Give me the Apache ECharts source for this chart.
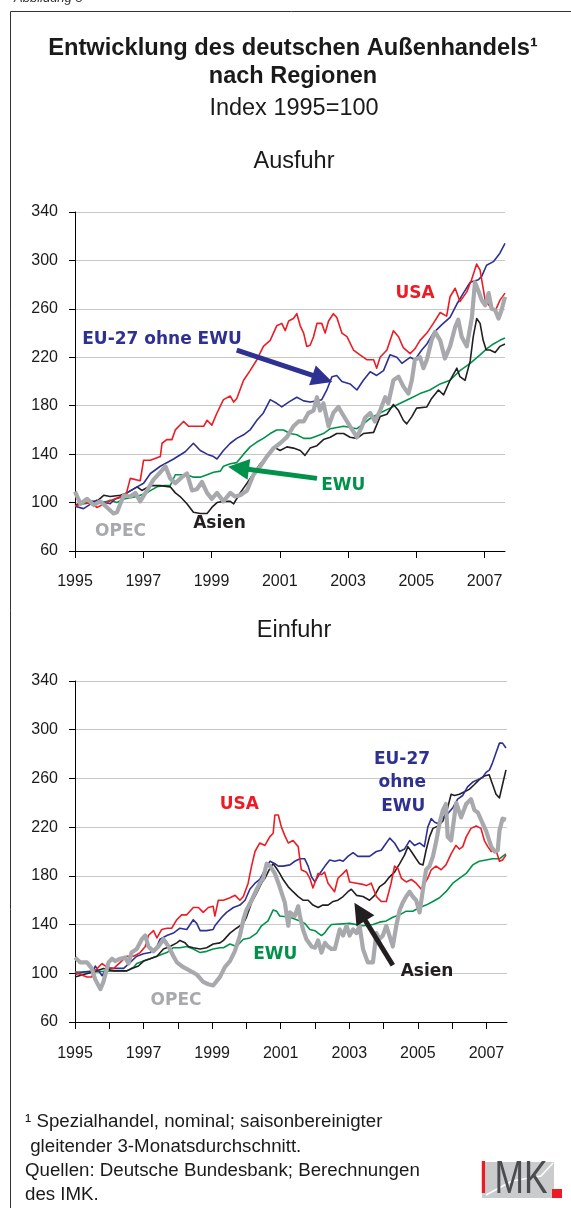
<!DOCTYPE html>
<html>
<head>
<meta charset="utf-8">
<script src="https://cdn.jsdelivr.net/npm/echarts@6/dist/echarts.min.js"></script>
<style>
  html, body { margin: 0; padding: 0; background: #fff; }
  #chart { width: 571px; height: 1208px; }
</style>
</head>
<body>
<div id="chart"></div>
<script>
// Werte als [Jahr, Index 1995=100]

// Ausfuhr
var exUSA = [[1995.00,97],[1995.25,100],[1995.50,99],[1995.64,96],[1996.00,101],[1996.25,104],[1996.50,107],[1996.62,120],[1996.91,118],[1997.01,135],[1997.21,135],[1997.50,138],[1997.55,149],[1997.69,152],[1997.84,152],[1997.94,160],[1998.18,167],[1998.33,163],[1998.77,163],[1998.87,168],[1999.01,164],[1999.16,174],[1999.35,185],[1999.55,188],[1999.65,183],[1999.74,186],[1999.94,201],[2000.13,209],[2000.33,218],[2000.52,229],[2000.72,234],[2000.91,246],[2001.06,248],[2001.16,242],[2001.26,250],[2001.40,252],[2001.50,256],[2001.60,246],[2001.70,240],[2001.79,229],[2001.89,230],[2001.99,237],[2002.09,248],[2002.23,248],[2002.33,240],[2002.43,250],[2002.57,256],[2002.67,253],[2002.82,240],[2002.97,237],[2003.16,226],[2003.35,222],[2003.55,218],[2003.75,218],[2003.84,211],[2003.94,220],[2004.14,226],[2004.33,242],[2004.48,237],[2004.62,228],[2004.82,223],[2004.96,227],[2005.11,234],[2005.31,240],[2005.50,248],[2005.70,257],[2005.89,254],[2005.99,270],[2006.14,277],[2006.28,266],[2006.48,274],[2006.62,284],[2006.77,297],[2006.87,292],[2007.02,267],[2007.16,262],[2007.31,258],[2007.45,267],[2007.60,273]];
var exEU = [[1995.00,97],[1995.25,95],[1995.64,102],[1996.03,99],[1996.18,103],[1996.43,105],[1996.52,108],[1996.82,113],[1997.01,116],[1997.21,124],[1997.50,130],[1997.89,136],[1998.23,142],[1998.47,149],[1998.67,143],[1998.87,140],[1999.06,138],[1999.16,136],[1999.35,143],[1999.55,149],[1999.74,153],[1999.94,156],[2000.13,160],[2000.33,168],[2000.52,174],[2000.72,185],[2000.91,182],[2001.06,179],[2001.26,183],[2001.50,187],[2001.70,184],[2001.89,183],[2002.09,184],[2002.23,185],[2002.38,193],[2002.53,204],[2002.67,205],[2002.82,200],[2003.06,198],[2003.26,193],[2003.45,201],[2003.65,208],[2003.84,205],[2004.04,209],[2004.23,222],[2004.43,220],[2004.58,215],[2004.82,220],[2004.96,218],[2005.16,226],[2005.31,231],[2005.50,240],[2005.75,247],[2005.99,253],[2006.19,264],[2006.38,273],[2006.58,282],[2006.82,284],[2006.92,287],[2007.06,296],[2007.26,299],[2007.45,306],[2007.60,314]];
var exEWU = [[1995.00,98],[1995.55,100],[1995.84,100],[1996.03,102],[1996.23,100],[1996.43,103],[1996.82,105],[1997.01,107],[1997.16,109],[1997.40,113],[1997.60,114],[1997.79,114],[1997.94,123],[1998.28,123],[1998.47,121],[1998.67,121],[1998.87,123],[1999.06,125],[1999.26,126],[1999.35,130],[1999.55,132],[1999.74,133],[1999.94,140],[2000.13,146],[2000.33,150],[2000.52,153],[2000.72,157],[2000.91,160],[2001.11,160],[2001.30,157],[2001.50,156],[2001.70,153],[2001.89,153],[2002.09,155],[2002.28,157],[2002.48,161],[2002.87,163],[2003.26,161],[2003.45,165],[2003.62,169],[2003.94,174],[2004.23,178],[2004.53,182],[2004.82,186],[2005.11,190],[2005.40,193],[2005.70,198],[2005.99,201],[2006.28,209],[2006.58,215],[2006.87,222],[2007.06,227],[2007.26,231],[2007.45,234],[2007.60,236]];
var exAsien = [[1995.00,98],[1995.35,101],[1995.64,101],[1995.84,106],[1996.03,105],[1996.33,106],[1996.52,108],[1996.82,113],[1996.96,110],[1997.21,114],[1997.50,114],[1997.79,113],[1997.94,108],[1998.08,105],[1998.28,99],[1998.47,92],[1998.67,91],[1998.87,91],[1999.01,96],[1999.16,100],[1999.35,101],[1999.55,101],[1999.65,99],[1999.84,108],[2000.04,116],[2000.23,124],[2000.43,132],[2000.62,138],[2000.82,146],[2001.01,143],[2001.21,146],[2001.40,145],[2001.60,143],[2001.74,139],[2001.89,145],[2002.09,147],[2002.28,152],[2002.48,154],[2002.67,157],[2002.87,157],[2003.06,154],[2003.26,153],[2003.45,157],[2003.75,158],[2003.94,171],[2004.14,173],[2004.33,181],[2004.48,176],[2004.62,168],[2004.72,165],[2004.87,171],[2005.01,178],[2005.31,179],[2005.45,186],[2005.65,193],[2005.80,189],[2005.99,201],[2006.19,211],[2006.28,204],[2006.43,201],[2006.58,217],[2006.67,237],[2006.77,252],[2006.87,248],[2006.96,234],[2007.05,226],[2007.16,226],[2007.31,224],[2007.45,229],[2007.60,231]];
var exOPEC = [[1995.00,109],[1995.16,99],[1995.35,103],[1995.55,98],[1995.74,101],[1995.94,96],[1996.13,91],[1996.23,92],[1996.43,106],[1996.62,105],[1996.77,108],[1996.91,101],[1997.11,110],[1997.30,119],[1997.50,125],[1997.65,130],[1997.79,120],[1997.94,116],[1998.13,121],[1998.28,124],[1998.43,110],[1998.57,111],[1998.72,117],[1998.87,108],[1999.01,103],[1999.16,108],[1999.35,101],[1999.55,108],[1999.69,105],[1999.84,106],[2000.04,110],[2000.23,123],[2000.43,130],[2000.62,138],[2000.82,145],[2001.01,149],[2001.21,154],[2001.40,163],[2001.55,167],[2001.70,167],[2001.84,174],[2001.99,176],[2002.09,187],[2002.18,176],[2002.28,182],[2002.43,163],[2002.57,174],[2002.72,179],[2002.82,174],[2002.97,167],[2003.06,163],[2003.26,154],[2003.41,163],[2003.50,170],[2003.65,174],[2003.79,167],[2003.94,176],[2004.09,187],[2004.18,182],[2004.33,201],[2004.48,204],[2004.62,196],[2004.77,190],[2004.87,201],[2004.96,218],[2005.11,220],[2005.21,211],[2005.31,218],[2005.45,234],[2005.55,241],[2005.70,234],[2005.84,219],[2005.99,229],[2006.14,245],[2006.23,251],[2006.33,237],[2006.48,229],[2006.63,253],[2006.72,282],[2006.82,275],[2006.92,267],[2007.02,263],[2007.12,273],[2007.21,260],[2007.31,259],[2007.41,252],[2007.50,259],[2007.60,270]];

// Einfuhr
var imUSA = [[1995.00,101],[1995.16,99],[1995.35,97],[1995.49,97],[1995.54,101],[1995.79,108],[1995.93,105],[1996.13,104],[1996.32,109],[1996.51,114],[1996.71,114],[1996.90,117],[1997.05,122],[1997.14,131],[1997.29,135],[1997.39,129],[1997.53,136],[1997.68,137],[1997.82,137],[1997.97,144],[1998.11,148],[1998.26,148],[1998.45,154],[1998.60,154],[1998.74,150],[1998.89,154],[1999.03,155],[1999.08,147],[1999.18,160],[1999.33,160],[1999.52,162],[1999.67,164],[1999.81,160],[1999.91,163],[2000.05,174],[2000.15,188],[2000.25,200],[2000.39,207],[2000.54,205],[2000.68,212],[2000.78,215],[2000.83,230],[2000.93,230],[2001.02,220],[2001.12,213],[2001.22,207],[2001.36,209],[2001.51,204],[2001.60,185],[2001.75,183],[2001.85,178],[2001.94,170],[2002.09,182],[2002.19,181],[2002.28,183],[2002.38,174],[2002.57,167],[2002.67,178],[2002.82,182],[2002.92,185],[2003.01,175],[2003.21,174],[2003.40,173],[2003.50,172],[2003.64,174],[2003.79,163],[2003.93,159],[2004.08,159],[2004.22,174],[2004.32,188],[2004.42,186],[2004.52,178],[2004.66,175],[2004.81,177],[2004.95,174],[2005.10,169],[2005.20,174],[2005.29,178],[2005.39,185],[2005.53,188],[2005.68,185],[2005.82,189],[2005.97,198],[2006.11,205],[2006.21,202],[2006.31,204],[2006.41,212],[2006.55,219],[2006.70,221],[2006.84,219],[2006.94,209],[2007.04,204],[2007.14,200],[2007.28,201],[2007.38,192],[2007.47,193],[2007.57,197]];
var imEU = [[1995.00,99],[1995.25,101],[1995.54,102],[1995.59,106],[1995.69,102],[1995.79,98],[1995.93,104],[1996.42,104],[1996.61,109],[1996.80,114],[1997.00,116],[1997.19,117],[1997.39,122],[1997.48,128],[1997.68,131],[1997.87,133],[1998.06,137],[1998.26,136],[1998.45,144],[1998.55,141],[1998.65,135],[1998.84,135],[1999.03,136],[1999.08,139],[1999.28,146],[1999.42,150],[1999.62,154],[1999.81,156],[1999.96,160],[2000.10,169],[2000.25,174],[2000.39,177],[2000.59,188],[2000.69,192],[2000.83,190],[2000.93,188],[2001.07,188],[2001.27,189],[2001.41,192],[2001.56,194],[2001.70,194],[2001.80,188],[2001.90,179],[2002.00,175],[2002.14,182],[2002.29,188],[2002.43,193],[2002.58,192],[2002.72,193],[2002.82,192],[2002.96,196],[2003.11,199],[2003.25,196],[2003.59,196],[2003.79,200],[2003.93,201],[2004.08,207],[2004.18,211],[2004.32,207],[2004.47,200],[2004.61,202],[2004.76,209],[2004.90,205],[2005.05,207],[2005.19,204],[2005.29,220],[2005.39,227],[2005.49,224],[2005.58,223],[2005.73,228],[2005.87,231],[2006.02,236],[2006.16,243],[2006.31,246],[2006.45,253],[2006.60,257],[2006.75,259],[2006.89,261],[2006.99,265],[2007.09,267],[2007.18,273],[2007.28,281],[2007.38,289],[2007.47,289],[2007.57,285]];
var imEWU = [[1995.00,101],[1995.54,101],[1996.13,102],[1996.51,102],[1996.71,105],[1996.80,108],[1997.00,110],[1997.19,112],[1997.39,114],[1997.58,116],[1997.68,117],[1997.87,121],[1998.06,121],[1998.26,122],[1998.45,120],[1998.65,117],[1998.84,118],[1999.03,120],[1999.23,121],[1999.33,121],[1999.52,124],[1999.71,122],[1999.91,128],[2000.10,129],[2000.30,133],[2000.44,139],[2000.63,143],[2000.78,152],[2000.88,151],[2000.97,147],[2001.27,146],[2001.56,143],[2001.70,141],[2001.85,136],[2002.00,135],[2002.09,133],[2002.19,131],[2002.28,133],[2002.38,137],[2002.48,140],[2003.01,141],[2003.40,139],[2003.69,140],[2003.88,142],[2004.08,143],[2004.27,146],[2004.47,148],[2004.66,151],[2004.85,151],[2005.05,154],[2005.24,156],[2005.44,159],[2005.63,162],[2005.82,167],[2006.02,174],[2006.21,178],[2006.41,182],[2006.60,189],[2006.79,192],[2006.99,193],[2007.18,194],[2007.38,194],[2007.47,196],[2007.57,198]];
var imAsien = [[1995.00,97],[1995.25,99],[1995.54,101],[1995.83,104],[1996.13,102],[1996.51,102],[1996.66,104],[1996.85,106],[1997.00,110],[1997.19,112],[1997.39,114],[1997.58,120],[1997.77,122],[1997.97,125],[1998.06,127],[1998.21,125],[1998.31,122],[1998.45,121],[1998.65,120],[1998.84,121],[1999.03,124],[1999.23,125],[1999.33,127],[1999.52,133],[1999.71,137],[1999.91,141],[2000.00,146],[2000.15,158],[2000.30,166],[2000.44,174],[2000.54,178],[2000.68,186],[2000.78,190],[2000.88,186],[2000.97,182],[2001.07,177],[2001.22,171],[2001.36,167],[2001.51,163],[2001.65,160],[2001.80,160],[2001.94,156],[2002.09,154],[2002.23,156],[2002.38,156],[2002.53,159],[2002.67,160],[2002.82,163],[2002.96,167],[2003.06,169],[2003.21,164],[2003.40,163],[2003.59,160],[2003.74,164],[2003.88,171],[2004.03,174],[2004.17,179],[2004.32,183],[2004.47,190],[2004.61,197],[2004.71,204],[2004.81,200],[2004.95,194],[2005.05,190],[2005.15,189],[2005.24,201],[2005.34,212],[2005.44,219],[2005.59,221],[2005.73,225],[2005.87,236],[2005.97,247],[2006.07,246],[2006.21,247],[2006.36,249],[2006.50,251],[2006.65,255],[2006.79,259],[2006.94,262],[2007.08,263],[2007.18,255],[2007.28,247],[2007.38,244],[2007.47,255],[2007.57,267]];
var imOPEC = [[1995.00,113],[1995.15,109],[1995.35,109],[1995.49,104],[1995.59,95],[1995.74,87],[1995.83,93],[1995.98,109],[1996.08,112],[1996.17,110],[1996.32,112],[1996.46,113],[1996.56,108],[1996.65,117],[1996.80,120],[1996.95,128],[1997.05,131],[1997.14,122],[1997.29,118],[1997.43,122],[1997.58,128],[1997.73,122],[1997.87,114],[1997.97,109],[1998.16,105],[1998.36,102],[1998.55,99],[1998.74,93],[1998.89,91],[1999.03,90],[1999.08,91],[1999.23,97],[1999.37,105],[1999.52,110],[1999.66,118],[1999.81,131],[1999.91,144],[2000.00,152],[2000.15,160],[2000.30,169],[2000.39,174],[2000.49,178],[2000.59,190],[2000.69,188],[2000.83,182],[2000.97,171],[2001.12,158],[2001.22,139],[2001.27,150],[2001.41,147],[2001.51,155],[2001.56,147],[2001.65,136],[2001.75,128],[2001.90,122],[2002.00,121],[2002.09,127],[2002.19,117],[2002.29,125],[2002.38,122],[2002.48,120],[2002.58,120],[2002.72,136],[2002.82,131],[2002.92,139],[2003.01,131],[2003.11,136],[2003.21,133],[2003.30,139],[2003.40,120],[2003.50,112],[2003.54,109],[2003.69,109],[2003.79,133],[2003.88,128],[2003.98,131],[2004.08,139],[2004.17,131],[2004.27,122],[2004.37,139],[2004.47,152],[2004.56,158],[2004.66,163],[2004.76,167],[2004.85,163],[2004.95,160],[2005.05,150],[2005.15,169],[2005.24,185],[2005.34,188],[2005.44,196],[2005.54,209],[2005.63,223],[2005.73,234],[2005.82,239],[2005.87,212],[2005.97,209],[2006.12,240],[2006.26,228],[2006.41,239],[2006.55,243],[2006.65,234],[2006.75,232],[2006.89,223],[2006.99,217],[2007.14,204],[2007.24,200],[2007.33,201],[2007.38,217],[2007.47,227],[2007.57,226]];

var yTicks = [60, 100, 140, 180, 220, 260, 300, 340];
var startYear = 1995;

// Pfeile: [Jahr, Wert] Anfang und Ende
var arrowEU = [[1999.74, 225.9], [2002.25, 202.3]];
var arrowEWU = [[2002.09, 120.0], [1999.79, 128.5]];
var arrowAsien = [[2004.27, 106.6], [2003.31, 150.5]];

var RED = '#ed1c24', BLUE = '#2e3192', GREEN = '#00924a', BLACK = '#231f20', GREY = '#a7a9ac';
var FONT = "'Liberation Sans', Arial, sans-serif";
var LBL = "bold 17px 'DejaVu Sans', sans-serif";

function toXY(arr) {
    return arr.map(function (p) { return [+(p[0] - startYear).toFixed(3), p[1]]; });
}

function lineSeries(name, data, color, width, idx, arrow) {
    var s = {
        name: name,
        type: 'line',
        xAxisIndex: idx,
        yAxisIndex: idx,
        data: toXY(data),
        showSymbol: false,
        symbol: 'none',
        silent: true,
        lineStyle: { color: color, width: width, join: 'round' },
        itemStyle: { color: color }
    };
    if (arrow) {
        s.markLine = {
            silent: true,
            symbol: ['none', 'triangle'],
            symbolSize: 21,
            label: { show: false },
            lineStyle: { color: color, width: 5, type: 'solid' },
            emphasis: { disabled: true },
            data: [[{ coord: toXY(arrow)[0] }, { coord: toXY(arrow)[1] }]]
        };
    }
    return s;
}

function xAxis(idx, step, margin) {
    return {
        type: 'value',
        gridIndex: idx,
        min: 0,
        max: 12.6,
        interval: step,
        axisLine: { show: true, onZero: false, lineStyle: { color: '#000', width: 1 } },
        axisTick: { show: true, length: 7, lineStyle: { color: '#000' } },
        splitLine: { show: false },
        axisLabel: {
            color: '#1a1a1a', fontSize: 16, fontFamily: FONT, margin: margin,
            showMaxLabel: false,
            formatter: function (v) {
                return (Math.abs(v - Math.round(v)) < 1e-6 && Math.round(v) % 2 === 0) ? String(startYear + Math.round(v)) : '';
            }
        }
    };
}

function yAxis(idx) {
    return {
        type: 'value',
        gridIndex: idx,
        min: yTicks[0],
        max: yTicks[yTicks.length - 1],
        interval: yTicks[1] - yTicks[0],
        axisLine: { show: true, lineStyle: { color: '#000', width: 1 } },
        axisTick: { show: true, length: 6, lineStyle: { color: '#000' } },
        splitLine: { show: true, lineStyle: { color: '#c8c8c8', width: 1 } },
        axisLabel: { color: '#1a1a1a', fontSize: 16, fontFamily: FONT, margin: 17 }
    };
}

function txt(text, x, y, font, color, align) {
    return {
        type: 'text', silent: true, z: 100,
        style: { text: text, x: x, y: y, font: font, fill: color, textAlign: align || 'center', textVerticalAlign: 'middle' }
    };
}

var chart = echarts.init(document.getElementById('chart'));

chart.setOption({
    animation: false,
    backgroundColor: '#fff',
    grid: [
        { left: 75, top: 212, width: 430, height: 339 },
        { left: 75, top: 681, width: 432, height: 341 }
    ],
    xAxis: [xAxis(0, 2, 23), xAxis(1, 1, 24)],
    yAxis: [yAxis(0), yAxis(1)],
    series: [
        lineSeries('EWU', exEWU, GREEN, 1.6, 0, arrowEWU),
        lineSeries('Asien', exAsien, BLACK, 1.6, 0),
        lineSeries('EU-27 ohne EWU', exEU, BLUE, 1.6, 0, arrowEU),
        lineSeries('USA', exUSA, RED, 1.6, 0),
        lineSeries('OPEC', exOPEC, GREY, 4.2, 0),
        lineSeries('EWU', imEWU, GREEN, 1.6, 1),
        lineSeries('Asien', imAsien, BLACK, 1.6, 1, arrowAsien),
        lineSeries('EU-27 ohne EWU', imEU, BLUE, 1.6, 1),
        lineSeries('USA', imUSA, RED, 1.6, 1),
        lineSeries('OPEC', imOPEC, GREY, 4.2, 1)
    ],
    graphic: [
        // Rahmen
        { type: 'rect', silent: true, shape: { x: 10.5, y: 11.5, width: 620, height: 1260 },
          style: { fill: 'none', stroke: '#333', lineWidth: 1 } },
        txt('Abbildung 5', 14, -2, "italic 13px " + FONT, '#333', 'left'),
        txt('Entwicklung des deutschen Außenhandels¹', 293, 48.7, "bold 23.7px " + FONT, '#1a1a1a'),
        txt('nach Regionen', 293, 76.7, "bold 23.5px " + FONT, '#1a1a1a'),
        txt('Index 1995=100', 294, 108.5, "23.5px " + FONT, '#1a1a1a'),
        txt('Ausfuhr', 294, 162, "23.5px " + FONT, '#1a1a1a'),
        txt('Einfuhr', 294, 631, "23.5px " + FONT, '#1a1a1a'),

        // Beschriftungen Ausfuhr
        txt('USA', 415, 293.7, LBL, RED),
        txt('EU-27 ohne EWU', 162, 340, LBL, BLUE),
        txt('EWU', 343.3, 485.3, LBL, GREEN),
        txt('Asien', 219.5, 523.5, LBL, BLACK),
        txt('OPEC', 120.5, 531.7, LBL, GREY),

        // Beschriftungen Einfuhr
        txt('USA', 239.3, 805, LBL, RED),
        txt('EU-27', 402, 759.3, LBL, BLUE),
        txt('ohne', 402.3, 783, LBL, BLUE),
        txt('EWU', 403.3, 806.3, LBL, BLUE),
        txt('EWU', 275.3, 955, LBL, GREEN),
        txt('OPEC', 176, 1000.3, LBL, GREY),
        txt('Asien', 427, 971.5, LBL, BLACK),

        // Fussnote
        txt('¹ Spezialhandel, nominal; saisonbereinigter', 25, 1122, "18.7px " + FONT, '#1a1a1a', 'left'),
        txt(' gleitender 3-Monatsdurchschnitt.', 25, 1147, "18.7px " + FONT, '#1a1a1a', 'left'),
        txt('Quellen: Deutsche Bundesbank; Berechnungen', 25, 1171, "18.7px " + FONT, '#1a1a1a', 'left'),
        txt('des IMK.', 25, 1194.5, "18.7px " + FONT, '#1a1a1a', 'left'),

        // IMK Logo
        { type: 'rect', silent: true, shape: { x: 482, y: 1162, width: 72, height: 36 }, style: { fill: '#c9cbcd' } },
        { type: 'polyline', silent: true, shape: { points: [[486, 1195], [512, 1181], [541, 1176], [553, 1163]] },
          style: { stroke: '#fff', lineWidth: 1.5, fill: 'none' } },
        { type: 'text', silent: true, z: 100, x: 478.4, y: 1180, scaleX: 0.77,
          style: {
              x: 0, y: 0, textVerticalAlign: 'middle', textAlign: 'left',
              text: '{r|I}{g|MK}',
              rich: {
                  r: { fill: RED, font: "46px " + FONT },
                  g: { fill: '#4a4c50', font: "46px " + FONT, padding: [0, 0, 0, 8] }
              }
          } },
        { type: 'rect', silent: true, shape: { x: 552, y: 1189, width: 10, height: 9 }, style: { fill: RED } }
    ]
});

window.addEventListener('resize', function () { chart.resize(); });
</script>
</body>
</html>
